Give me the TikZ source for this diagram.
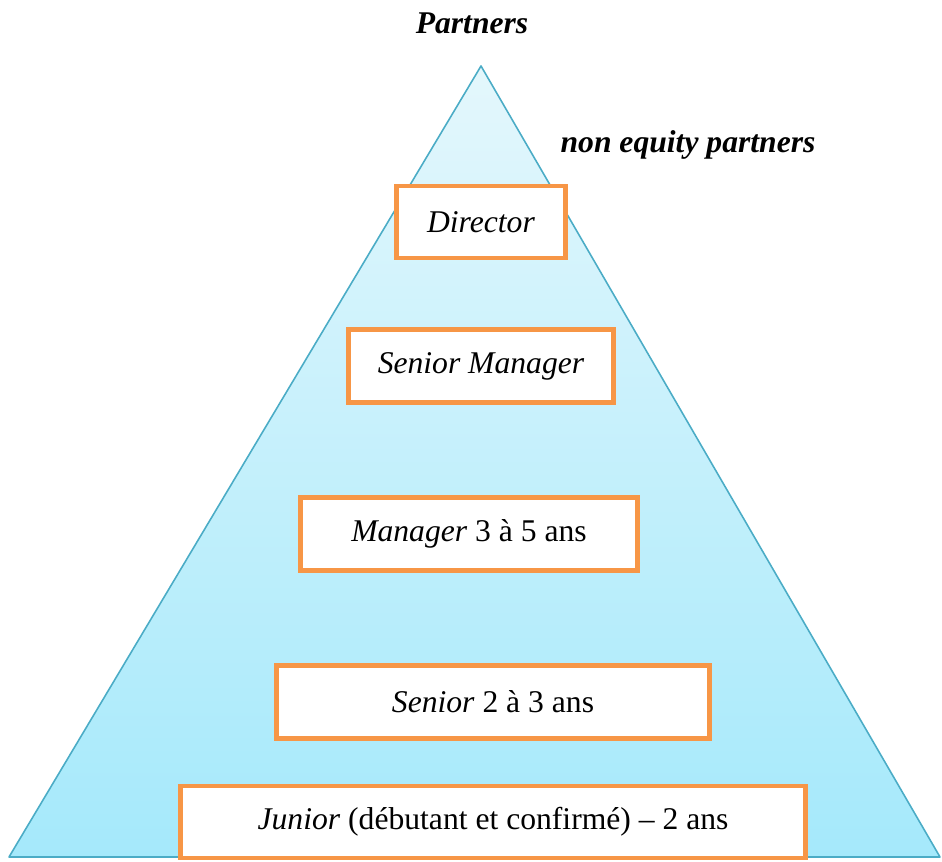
\documentclass[tikz,border=0pt]{standalone}
\usepackage{fontspec}
\setmainfont{Liberation Serif}
\usepackage{tikz}
\usetikzlibrary{positioning}
\definecolor{tierorange}{RGB}{247, 150, 70}
\definecolor{pyramidline}{RGB}{75, 172, 198}
\definecolor{pyramidtop}{RGB}{228, 247, 252}
\definecolor{pyramidbottom}{RGB}{165, 233, 251}

\begin{document}
\begin{tikzpicture}[
    x=0.02cm, y=-0.02cm,
    tier/.style={draw=tierorange, line width=2.5pt, fill=white, inner sep=0pt, font=\fontsize{18}{21}\selectfont},
    title/.style={font=\fontsize{18}{21}\selectfont\bfseries\itshape}
]
    \useasboundingbox (0,0) rectangle (942,861);

    % Pyramid
    \coordinate (apex) at (481,66);
    \coordinate (baseleft) at (9,857);
    \coordinate (baseright) at (940,857);
    \shade[top color=pyramidtop, bottom color=pyramidbottom] (apex) -- (baseleft) -- (baseright) -- cycle;
    \draw[pyramidline, line width=0.9pt, line join=round] (apex) -- (baseleft) -- (baseright) -- cycle;

    % Labels
    \node[title] (partners) at (472,23) {Partners};
    \node[title] (nonequity) at (688,145) {non equity partners};

    % Tiers
    \node[tier, minimum width=3.38cm, minimum height=1.44cm] (director) at (481,222) {\textit{Director}};
    \node[tier, minimum width=5.30cm, minimum height=1.46cm] (seniormanager) at (481,366) {\textit{Senior Manager}};
    \node[tier, minimum width=6.74cm, minimum height=1.46cm] (manager) at (469,534) {\textit{Manager} 3 à 5 ans};
    \node[tier, minimum width=8.66cm, minimum height=1.46cm] (senior) at (493,702) {\textit{Senior} 2 à 3 ans};
    \node[tier, minimum width=12.50cm, minimum height=1.44cm] (junior) at (493,822) {\textit{Junior} (débutant et confirmé) – 2 ans};

\end{tikzpicture}
\end{document}
